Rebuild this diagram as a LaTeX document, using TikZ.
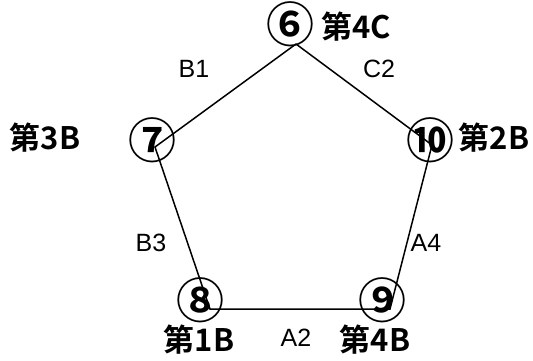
\documentclass[tikz,border=0pt]{standalone}
\usepackage{fontspec}
\setmainfont{Liberation Sans}
\newfontfamily\jp{Noto Sans CJK JP}[BoldFont={Noto Sans CJK JP Bold}]
\begin{document}
\begin{tikzpicture}[x=1pt,y=-1pt,
  edge/.style={draw=black,line width=1.5pt},
  vnum/.style={inner sep=0pt,font=\jp\bfseries\fontsize{48}{48}\selectfont},
  grp/.style={inner sep=0pt,font=\jp\bfseries\fontsize{31}{31}\selectfont},
  elab/.style={inner sep=0pt,font=\fontsize{25}{25}\selectfont}]
\useasboundingbox (0,0) rectangle (533,360);
\coordinate (A) at (296,44);
\coordinate (B) at (155,147);
\coordinate (C) at (210,309);
\coordinate (D) at (390,309);
\coordinate (E) at (432,145);
\draw[edge] (A) -- (B) -- (C) -- (D) -- (E) -- (A);
\node[vnum] (n6) at (290,24) {⑥};
\node[vnum] (n7) at (152,140) {⑦};
\node[vnum] (n10) at (430,140) {⑩};
\node[vnum] (n8) at (200,300) {⑧};
\node[vnum] (n9) at (382,300) {⑨};
\node[grp] (g4c) at (356,27) {第4C};
\node[grp] (g3b) at (45,138) {第3B};
\node[grp] (g2b) at (494,138) {第2B};
\node[grp] (g1b) at (199,340) {第1B};
\node[grp] (g4b) at (375,340) {第4B};
\node[elab] (lb1) at (194,69) {B1};
\node[elab] (lc2) at (379,69) {C2};
\node[elab] (lb3) at (151,243) {B3};
\node[elab] (la4) at (426,243) {A4};
\node[elab] (la2) at (296,338) {A2};
\end{tikzpicture}
\end{document}
